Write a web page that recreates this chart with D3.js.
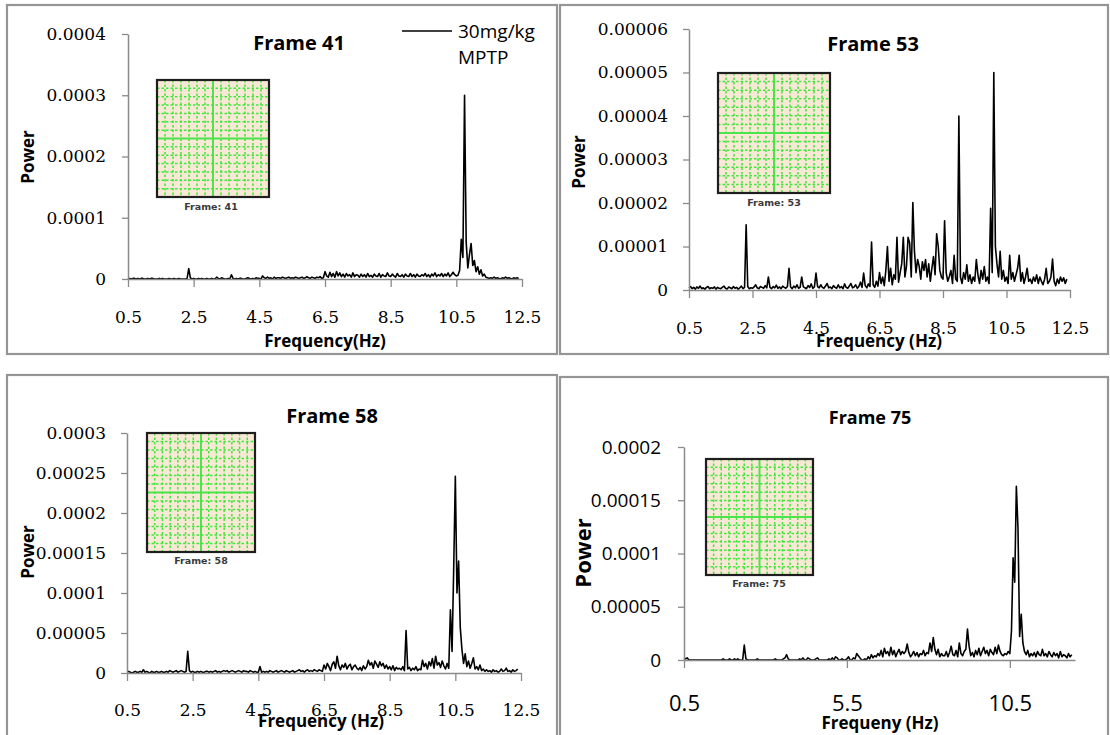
<!DOCTYPE html>
<html>
<head>
<meta charset="utf-8">
<script src="https://cdn.jsdelivr.net/npm/d3@7"></script>
<style>
body { margin: 0; background: #fff; }
</style>
</head>
<body>
<div id="chart"></div>
<script>
// frequency bins: 0.5 Hz upward in steps of 0.05 Hz (one row = 1 Hz)
var freqStart = 0.5, freqStep = 0.05;

// power, in units of 1e-6
var frame41 = [
  0,1,0,1,1,0,1,0,1,1,0,0,1,0,1,1,0,0,0,1,
  0,1,0,0,0,1,0,0,1,0,0,1,0,0,0,0,1,17,2,0,
  1,0,0,1,0,1,0,0,1,0,0,1,0,0,3,1,0,2,1,0,
  0,1,0,7,1,0,1,0,1,1,0,0,1,2,1,0,1,0,2,1,
  1,0,5,2,1,3,1,2,0,3,1,2,2,1,3,2,1,2,3,1,
  2,1,3,2,1,2,3,1,2,4,2,1,3,2,1,3,2,4,1,2,
  12,5,3,11,4,9,3,12,5,10,4,8,3,9,5,7,3,10,4,7,
  6,3,8,4,7,3,9,4,6,3,8,5,4,9,3,7,5,4,10,5,
  4,8,5,3,9,5,4,7,3,8,5,4,9,4,7,3,8,5,4,7,
  5,9,4,7,3,8,5,10,4,7,5,9,4,8,5,10,4,7,11,7,
  5,6,14,65,35,300,60,18,40,58,22,30,12,20,8,15,5,8,3,2,
  1,2,1,3,1,2,1,0,2,1,3,1,2,1,0,2,1,2,1
];
// power, in units of 1e-7
var frame53 = [
  5,8,3,6,2,7,4,9,3,5,2,6,8,3,5,4,7,2,6,4,
  3,6,9,4,2,7,5,3,8,4,6,2,5,9,3,6,150,8,3,5,
  4,7,12,5,3,8,6,4,10,5,30,6,3,8,5,11,4,7,3,9,
  6,4,8,50,7,3,9,5,12,4,6,30,8,5,3,10,6,14,4,7,
  39,8,5,12,6,4,9,15,5,7,3,10,6,4,12,5,8,3,14,6,
  4,9,15,5,7,12,4,8,18,6,39,10,5,14,8,110,12,6,20,9,
  40,15,30,10,45,100,20,50,12,35,25,121,18,40,60,121,30,55,121,108,
  30,201,90,40,70,55,25,65,45,70,30,60,20,50,77,35,129,100,45,30,
  25,159,40,20,31,45,15,80,25,20,400,30,15,40,25,58,20,35,15,30,
  20,70,35,15,45,25,54,20,30,15,188,40,500,100,60,30,89,25,45,20,
  30,15,80,25,40,20,35,50,80,20,40,15,30,50,20,25,15,30,20,35,
  15,30,20,12,25,50,15,20,30,71,20,10,25,15,30,20,28,15,25
];
// power, in units of 1e-6
var frame58 = [
  1,2,1,0,1,2,1,1,2,1,4,1,2,1,0,2,1,1,2,1,
  1,2,1,1,2,1,3,2,1,2,3,1,2,3,2,1,2,27,3,1,
  2,1,1,2,1,2,1,1,2,2,1,2,1,2,3,1,2,1,2,3,
  2,3,1,2,3,2,1,2,3,2,1,3,2,2,1,3,2,1,2,1,
  1,8,1,2,1,2,1,3,2,1,2,3,1,2,3,2,1,3,2,1,
  2,3,1,2,3,4,2,3,1,3,4,2,3,2,4,3,2,4,3,2,
  10,5,12,8,3,11,14,6,21,9,4,10,7,12,5,9,11,4,8,10,
  6,4,7,3,9,5,8,16,10,13,6,15,11,7,14,9,12,6,10,5,
  8,4,9,3,7,5,6,4,8,3,53,5,7,3,6,4,8,3,5,4,
  16,8,12,5,14,9,18,6,21,10,13,7,15,9,5,12,6,79,27,130,
  246,100,140,57,30,12,24,8,15,6,12,19,5,8,4,10,3,5,2,4,
  2,3,1,4,2,3,1,2,5,2,3,6,2,3,1,4,2,3,5
];
// power, in units of 1e-6
var frame75 = [
  2,1,2,0,0,0,0,0,0,0,0,0,0,0,0,0,0,0,0,0,
  0,0,0,0,1,0,0,0,1,0,0,1,0,1,0,0,0,14,1,0,
  0,0,0,0,0,1,0,0,0,0,0,0,0,0,0,0,1,0,0,0,
  0,1,2,5,1,0,0,0,0,0,0,1,0,2,0,0,2,1,0,0,
  0,1,2,0,0,0,0,0,0,1,0,2,0,3,2,0,0,1,0,0,
  1,3,0,0,2,1,6,4,2,0,0,1,0,3,1,5,2,4,3,6,
  4,9,3,11,6,8,4,12,5,9,3,7,10,5,8,6,8,15,7,3,
  5,8,4,7,3,6,5,9,4,7,6,16,8,21,10,5,10,3,6,4,
  4,8,3,7,13,5,4,9,3,16,6,4,8,10,29,13,4,7,3,9,
  5,11,4,8,12,6,9,4,10,7,5,12,6,14,8,5,4,6,5,8,
  6,27,96,73,163,124,22,43,16,8,5,9,3,6,4,7,3,8,5,4,
  10,4,6,3,8,5,3,7,4,6,2,8,3,5,4,2,6,3,5
];

var xLabelsA = ["0.5","2.5","4.5","6.5","8.5","10.5","12.5"];
var xLabelsB = ["0.5","5.5","10.5"];
var yLabels41 = ["0","0.0001","0.0002","0.0003","0.0004"];
var yLabels53 = ["0","0.00001","0.00002","0.00003","0.00004","0.00005","0.00006"];
var yLabels58 = ["0","0.00005","0.0001","0.00015","0.0002","0.00025","0.0003"];
var yLabels75 = ["0","0.00005","0.0001","0.00015","0.0002"];

var serif = "'DejaVu Serif', serif";
var sans = "'Open Sans', 'Liberation Sans', sans-serif";

var panels = [
  { values: frame41, unit: 1e-6, yLabels: yLabels41, xLabels: xLabelsA,
    border: [7, 5, 557, 354], xr: [128, 522], yr: [279, 34],
    tickFont: serif, ySize: 17, xSize: 17, yGap: 22, xOff: 38,
    title: ["Frame 41", 299, 42, 20], ylab: ["Power", 27, 157, 17], xlab: ["Frequency(Hz)", 325, 340, 17],
    inset: [157, 80, 112, 117, "Frame: 41", 211, 206] },
  { values: frame53, unit: 1e-7, yLabels: yLabels53, xLabels: xLabelsA,
    border: [560, 5, 1108, 354], xr: [689, 1070], yr: [290, 29],
    tickFont: serif, ySize: 17, xSize: 17, yGap: 21, xOff: 38,
    title: ["Frame 53", 873, 43, 20], ylab: ["Power", 578, 162, 17], xlab: ["Frequency (Hz)", 879, 340, 17],
    inset: [718, 73, 112, 120, "Frame: 53", 774, 202] },
  { values: frame58, unit: 1e-6, yLabels: yLabels58, xLabels: xLabelsA,
    border: [7, 375, 557, 745], xr: [127, 521], yr: [673, 433],
    tickFont: serif, ySize: 17, xSize: 17, yGap: 21, xOff: 37,
    title: ["Frame 58", 332, 415, 20], ylab: ["Power", 27, 552, 17], xlab: ["Frequency (Hz)", 321, 720, 17],
    inset: [147, 433, 108, 119, "Frame: 58", 201, 560] },
  { values: frame75, unit: 1e-6, yLabels: yLabels75, xLabels: xLabelsB,
    border: [560, 377, 1108, 745], xr: [684, 1075], yr: [660, 447],
    tickFont: sans, ySize: 19, xSize: 22, yGap: 23, xOff: 43,
    title: ["Frame 75", 870, 417, 18], ylab: ["Power", 582, 553, 22], xlab: ["Frequeny (Hz)", 880, 722, 17],
    inset: [706, 459, 107, 116, "Frame: 75", 759, 583] }
];

var svg = d3.select("#chart").append("svg")
    .attr("width", 1110)
    .attr("height", 735)
    .style("display", "block");

function drawInset(g, p) {
  var x = p[0], y = p[1], w = p[2], h = p[3];
  var n = 14;
  var ins = g.append("g");
  ins.append("rect").attr("x", x).attr("y", y).attr("width", w).attr("height", h)
      .attr("fill", "#fae8d6");
  for (var i = 1; i < n; i++) {
    var gx = x + w * i / n, gy = y + h * i / n;
    var mid = (i == n / 2);
    ins.append("line").attr("x1", gx).attr("x2", gx).attr("y1", y).attr("y2", y + h)
        .attr("stroke", mid ? "#4be44b" : "#3ee83e")
        .attr("stroke-width", mid ? 2 : 1.5)
        .attr("stroke-dasharray", mid ? null : "2.5,2");
    ins.append("line").attr("x1", x).attr("x2", x + w).attr("y1", gy).attr("y2", gy)
        .attr("stroke", mid ? "#4be44b" : "#3ee83e")
        .attr("stroke-width", mid ? 2 : 1.5)
        .attr("stroke-dasharray", mid ? null : "2.5,2");
  }
  ins.append("rect").attr("x", x).attr("y", y).attr("width", w).attr("height", h)
      .attr("fill", "none").attr("stroke", "#1e1e1e").attr("stroke-width", 2.2);
  ins.append("text").attr("x", p[5]).attr("y", p[6])
      .attr("text-anchor", "middle").attr("dominant-baseline", "central")
      .style("font-family", "'DejaVu Sans', sans-serif").style("font-weight", "bold")
      .style("font-size", "9.5px").attr("fill", "#3a3a3a")
      .text(p[4]);
}

function drawPanel(c) {
  var g = svg.append("g");
  var b = c.border;
  g.append("rect").attr("x", b[0]).attr("y", b[1])
      .attr("width", b[2] - b[0]).attr("height", b[3] - b[1])
      .attr("fill", "#fff").attr("stroke", "#959595").attr("stroke-width", 2.2);

  var ymax = +c.yLabels[c.yLabels.length - 1];
  var x = d3.scaleLinear().domain([0.5, 12.5]).range(c.xr);
  var y = d3.scaleLinear().domain([0, ymax]).range(c.yr);

  drawInset(g, c.inset);

  var pts = c.values.map(function(v, i) { return [freqStart + i * freqStep, v * c.unit]; });
  var line = d3.line()
      .x(function(d) { return x(d[0]); })
      .y(function(d) { return y(d[1]); });
  g.append("path").datum(pts)
      .attr("d", line)
      .attr("fill", "none")
      .attr("stroke", "#000")
      .attr("stroke-width", 1.6)
      .attr("stroke-linejoin", "round");

  var yAxis = g.append("g")
      .attr("transform", "translate(" + c.xr[0] + ",0)")
      .call(d3.axisLeft(y)
        .tickValues(c.yLabels.map(Number))
        .tickFormat(function(d, i) { return c.yLabels[i]; })
        .tickSize(6).tickSizeOuter(0).tickPadding(c.yGap - 6));
  var xAxis = g.append("g")
      .attr("transform", "translate(0," + c.yr[0] + ")")
      .call(d3.axisBottom(x)
        .tickValues(c.xLabels.map(Number))
        .tickFormat(function(d, i) { return c.xLabels[i]; })
        .tickSize(8).tickSizeOuter(0));
  [yAxis, xAxis].forEach(function(a) {
    a.select(".domain").attr("stroke", "#8a8a8a").attr("stroke-width", 1.5);
    a.selectAll(".tick line").attr("stroke", "#8a8a8a").attr("stroke-width", 1.3);
    a.selectAll("text").attr("fill", "#000").style("font-family", c.tickFont);
  });
  yAxis.selectAll("text").style("font-size", c.ySize + "px");
  xAxis.selectAll("text").style("font-size", c.xSize + "px")
      .attr("y", c.xOff).attr("dy", "0.35em");

  var bold = function(t, s) {
    return g.append("text").attr("text-anchor", "middle").attr("dominant-baseline", "central")
        .style("font-family", sans).style("font-weight", "bold").style("font-size", s + "px")
        .attr("fill", "#000").text(t);
  };
  bold(c.title[0], c.title[3]).attr("x", c.title[1]).attr("y", c.title[2]);
  bold(c.xlab[0], c.xlab[3]).attr("x", c.xlab[1]).attr("y", c.xlab[2]);
  bold(c.ylab[0], c.ylab[3])
      .attr("transform", "translate(" + c.ylab[1] + "," + c.ylab[2] + ") rotate(-90)");
  return g;
}

var gs = panels.map(drawPanel);

// legend of the first chart
var lg = gs[0].append("g");
lg.append("line").attr("x1", 402).attr("x2", 452).attr("y1", 31).attr("y2", 31)
    .attr("stroke", "#000").attr("stroke-width", 1.3);
lg.append("text").attr("x", 458).attr("y", 31).attr("dominant-baseline", "central")
    .style("font-family", sans).style("font-size", "19px").text("30mg/kg");
lg.append("text").attr("x", 458).attr("y", 57).attr("dominant-baseline", "central")
    .style("font-family", sans).style("font-size", "19px").text("MPTP");
</script>
</body>
</html>
